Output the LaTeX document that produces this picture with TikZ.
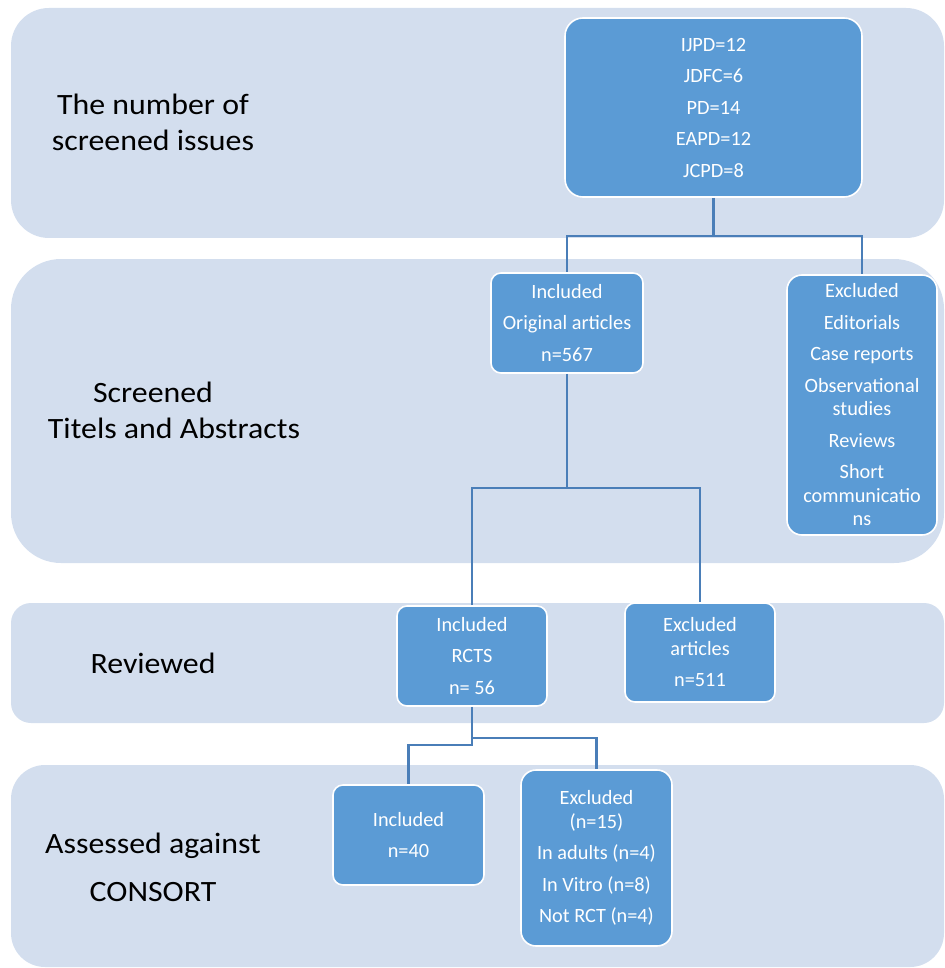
\documentclass[tikz,border=0pt]{standalone}
\usepackage{fontspec}
\setmainfont{Carlito}
\newfontfamily\widefont[FakeStretch=1.08]{Carlito}
\definecolor{bandfill}{HTML}{D3DEEE}
\definecolor{boxblue}{HTML}{5B9BD5}
\definecolor{linkblue}{HTML}{4A7EB8}
\begin{document}
\begin{tikzpicture}[x=1pt,y=-1pt,
  band/.style={fill=bandfill},
  label/.style={align=center, text=black, inner sep=0pt, font=\widefont\fontsize{29.5}{36}\selectfont},
  box/.style={draw=white, line width=1.6pt, fill=boxblue, text=white, align=center, inner sep=0pt,
    font=\fontsize{20.3}{23.5}\selectfont, rectangle},
  link/.style={draw=linkblue, line width=2.2pt}]
\useasboundingbox (0,0) rectangle (944,968);
% bands
\path[band, rounded corners=38pt] (11,8) rectangle (944,238);
\path[band, rounded corners=50pt] (11,259) rectangle (944,563);
\path[band, rounded corners=20pt] (11,603) rectangle (944,723);
\path[band, rounded corners=34pt] (11,765) rectangle (944,967);
% band labels
\node[label] (l1) at (153,122) {The number of\\screened issues};
\node[label] (l2) at (174,410) {Screened\hspace*{42pt}\\Titels and Abstracts};
\node[label] (l3) at (153,663) {Reviewed};
\node[label] (l4) at (153,867) {Assessed against\\[12pt]CONSORT};
% boxes
\node[box, minimum width=297pt, minimum height=179pt, rounded corners=18pt] (issues) at (713.5,107.5)
  {IJPD=12\\[8pt]JDFC=6\\[8pt]PD=14\\[8pt]EAPD=12\\[8pt]JCPD=8};
\node[box, minimum width=152pt, minimum height=100pt, rounded corners=10pt] (orig) at (567,323)
  {Included\\[8pt]Original articles\\[8pt]n=567};
\node[box, minimum width=150pt, minimum height=260pt, rounded corners=15pt] (excl1) at (862,405)
  {Excluded\\[8pt]Editorials\\[8pt]Case reports\\[8pt]Observational\\studies\\[8pt]Reviews\\[8pt]Short\\communicatio\\ns};
\node[box, minimum width=150pt, minimum height=100pt, rounded corners=10pt] (rcts) at (472,656)
  {Included\\[8pt]RCTS\\[8pt]n= 56};
\node[box, minimum width=150pt, minimum height=99pt, rounded corners=10pt] (excl2) at (700,652.5)
  {Excluded\\articles\\[8pt]n=511};
\node[box, minimum width=151pt, minimum height=100pt, rounded corners=10pt] (incl40) at (408.5,835)
  {Included\\[8pt]n=40};
\node[box, minimum width=151pt, minimum height=176pt, rounded corners=15pt] (excl15) at (596.5,858)
  {Excluded\\(n=15)\\[8pt]In adults (n=4)\\[8pt]In Vitro (n=8)\\[8pt]Not RCT (n=4)};
% junction points
\coordinate (j1) at (713.5,236);
\coordinate (j2) at (567,488);
\coordinate (j3a) at (472,738);
\coordinate (j3b) at (472,745);
% connectors
\draw[link] (issues.south) -- (j1) -| (orig.north);
\draw[link] (j1) -| (excl1.north);
\draw[link] (orig.south) -- (j2) -| (rcts.north);
\draw[link] (j2) -| (excl2.north);
\draw[link] (rcts.south) -- (j3b) -| (incl40.north);
\draw[link] (j3a) -| (excl15.north);
\end{tikzpicture}
\end{document}
